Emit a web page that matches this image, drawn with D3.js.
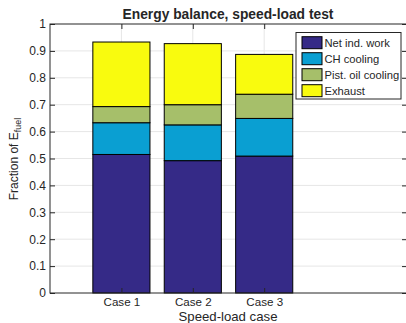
<!DOCTYPE html>
<html>
<head>
<meta charset="utf-8">
<script src="https://cdn.jsdelivr.net/npm/d3@7"></script>
<style>
  body { margin: 0; background: #fff; }
  text { font-family: "Liberation Sans", Arial, sans-serif; fill: #262626; }
</style>
</head>
<body>
<svg id="chart" width="406" height="323"></svg>
<script>
// data
const cases = ["Case 1", "Case 2", "Case 3"];
const seriesNames = ["Net ind. work", "CH cooling", "Pist. oil cooling", "Exhaust"];
const netWork = [0.515, 0.492, 0.509];
const chCooling = [0.118, 0.133, 0.140];
const pistOil = [0.060, 0.075, 0.090];
const exhaust = [0.240, 0.227, 0.148];
const yTicks = [0, 0.1, 0.2, 0.3, 0.4, 0.5, 0.6, 0.7, 0.8, 0.9, 1];
const colors = ["#352a87", "#0a9fd2", "#a6bf6a", "#f9fb0e"];

const svg = d3.select("#chart");
const mLeft = 50, mRight = 407, mTop = 24, mBottom = 293;

const x = d3.scaleLinear().domain([0, 5]).range([mLeft, mRight]);
const y = d3.scaleLinear().domain([0, 1]).range([mBottom, mTop]);
const barW = (x(1) - x(0)) * 0.8;

// grid
const grid = svg.append("g");
grid.selectAll(".gy").data(yTicks.slice(1, -1)).enter().append("line")
  .attr("x1", mLeft).attr("x2", mRight)
  .attr("y1", d => y(d)).attr("y2", d => y(d))
  .attr("stroke", "#e6e6e6").attr("stroke-width", 1);
grid.selectAll(".gx").data(cases).enter().append("line")
  .attr("x1", (d, i) => x(i + 1)).attr("x2", (d, i) => x(i + 1))
  .attr("y1", mTop).attr("y2", mBottom)
  .attr("stroke", "#e6e6e6").attr("stroke-width", 1);

// stacked bars
const rows = cases.map((c, i) => ({ case: c, i: i, v: [netWork[i], chCooling[i], pistOil[i], exhaust[i]] }));
const stacked = d3.stack().keys([0, 1, 2, 3]).value((d, k) => d.v[k])(rows);

stacked.forEach((layer, k) => {
  svg.append("g").selectAll("rect").data(layer).enter().append("rect")
    .attr("x", d => x(d.data.i + 1) - barW / 2)
    .attr("width", barW)
    .attr("y", d => y(d[1]))
    .attr("height", d => y(d[0]) - y(d[1]))
    .attr("fill", colors[k])
    .attr("stroke", "#000").attr("stroke-width", 1);
});

// axes
const axisCol = "#262626";
svg.append("rect").attr("x", mLeft).attr("y", mTop)
  .attr("width", mRight - mLeft).attr("height", mBottom - mTop)
  .attr("fill", "none").attr("stroke", axisCol).attr("stroke-width", 1);

const yAxis = svg.append("g").attr("transform", `translate(${mLeft},0)`)
  .call(d3.axisLeft(y).tickValues(yTicks).tickFormat(d3.format("~g")).tickSizeInner(-5).tickSizeOuter(0).tickPadding(4));
yAxis.select(".domain").remove();
yAxis.selectAll("line").attr("stroke", axisCol);
yAxis.selectAll("text").attr("font-size", 12).attr("fill", axisCol);

const yAxisR = svg.append("g").attr("transform", `translate(${mRight},0)`)
  .call(d3.axisRight(y).tickValues(yTicks).tickSizeInner(-5).tickSizeOuter(0).tickFormat(""));
yAxisR.select(".domain").remove();
yAxisR.selectAll("line").attr("stroke", axisCol);

const xAxis = svg.append("g").attr("transform", `translate(0,${mBottom})`)
  .call(d3.axisBottom(x).tickValues([1, 2, 3]).tickFormat(d => cases[d - 1]).tickSizeInner(-5).tickSizeOuter(0).tickPadding(5));
xAxis.select(".domain").remove();
xAxis.selectAll("line").attr("stroke", axisCol);
xAxis.selectAll("text").attr("font-size", 11.6).attr("fill", axisCol);

const xAxisT = svg.append("g").attr("transform", `translate(0,${mTop})`)
  .call(d3.axisTop(x).tickValues([1, 2, 3]).tickSizeInner(-5).tickSizeOuter(0).tickFormat(""));
xAxisT.select(".domain").remove();
xAxisT.selectAll("line").attr("stroke", axisCol);

// labels
svg.append("text").attr("x", 228).attr("y", 18.5).attr("text-anchor", "middle")
  .attr("font-size", 13.8).attr("font-weight", "bold").attr("fill", "#000")
  .text("Energy balance, speed-load test");
svg.append("text").attr("x", 228).attr("y", 321).attr("text-anchor", "middle")
  .attr("font-size", 13.2).text("Speed-load case");
const yl = svg.append("text").attr("transform", "translate(18,159) rotate(-90)")
  .attr("text-anchor", "middle").attr("font-size", 12);
yl.append("tspan").text("Fraction of E");
yl.append("tspan").attr("font-size", 9).attr("dy", 3).text("fuel");

// legend
const lg = svg.append("g").attr("transform", "translate(296,32.5)");
lg.append("rect").attr("width", 105).attr("height", 66.5)
  .attr("fill", "#fff").attr("stroke", axisCol).attr("stroke-width", 1);
seriesNames.forEach((n, k) => {
  const row = lg.append("g").attr("transform", `translate(6,${4.2 + k * 16})`);
  row.append("rect").attr("width", 20).attr("height", 12)
    .attr("fill", colors[k]).attr("stroke", "#000").attr("stroke-width", 1);
  row.append("text").attr("x", 22.5).attr("y", 10).attr("font-size", 11.2).attr("fill", "#000").text(n);
});
</script>
</body>
</html>
